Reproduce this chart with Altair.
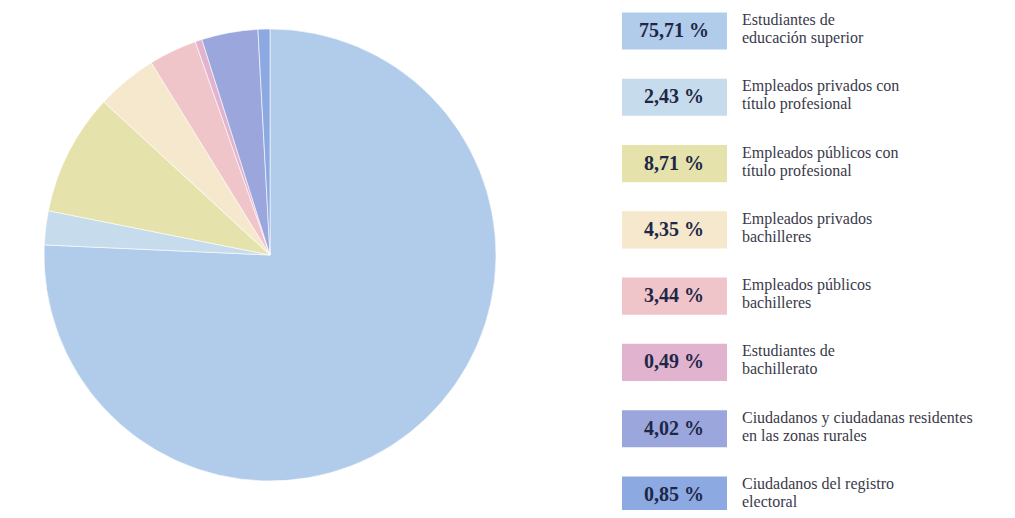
import altair as alt
import pandas as pd

categories = [
    "Estudiantes de\neducación superior",
    "Empleados privados con\ntítulo profesional",
    "Empleados públicos con\ntítulo profesional",
    "Empleados privados\nbachilleres",
    "Empleados públicos\nbachilleres",
    "Estudiantes de\nbachillerato",
    "Ciudadanos y ciudadanas residentes\nen las zonas rurales",
    "Ciudadanos del registro\nelectoral",
]
values = [75.71, 2.43, 8.71, 4.35, 3.44, 0.49, 4.02, 0.85]
value_labels = ["75,71 %", "2,43 %", "8,71 %", "4,35 %", "3,44 %", "0,49 %", "4,02 %", "0,85 %"]
colors = ["#b1cbea", "#c6dcec", "#e6e2ab", "#f5e8cc", "#f0c5c9", "#e2b3cf", "#9ba7dc", "#8ca9e1"]

df = pd.DataFrame({
    "cat": categories,
    "value": values,
    "vlabel": value_labels,
    "idx": list(range(len(values))),
})

color = alt.Color("cat:N", scale=alt.Scale(domain=categories, range=colors), legend=None)

pie = alt.Chart(df).mark_arc(
    outerRadius=226, stroke="white", strokeWidth=0.6
).encode(
    theta=alt.Theta("value:Q", stack=True),
    order=alt.Order("idx:Q"),
    color=color,
    x=alt.value(262),
    y=alt.value(247),
)

yscale = alt.Scale(domain=[0, 7], range=[23, 487])

boxes = alt.Chart(df).transform_calculate(
    y1="datum.idx - 0.28", y2="datum.idx + 0.28"
).mark_rect().encode(
    x=alt.value(614),
    x2=alt.value(719),
    y=alt.Y("y1:Q", scale=yscale, axis=None),
    y2="y2:Q",
    color=color,
)

pct_text = alt.Chart(df).mark_text(
    font="Liberation Serif", fontSize=20, fontWeight="bold", color="#1e2747",
    align="center", baseline="middle"
).encode(
    x=alt.value(666),
    y=alt.Y("idx:Q", scale=yscale, axis=None),
    text="vlabel:N",
)

lbl_text = alt.Chart(df).mark_text(
    font="Liberation Serif", fontSize=16, color="#3a3a4a",
    align="left", baseline="middle", lineBreak="\n", lineHeight=18, dy=-11
).encode(
    x=alt.value(734),
    y=alt.Y("idx:Q", scale=yscale, axis=None),
    text="cat:N",
)

chart = alt.layer(pie, boxes, pct_text, lbl_text).properties(
    width=999, height=502, padding=0, autosize="none"
).configure_view(stroke=None)

chart.save("out.html", embed_options={"renderer": "svg", "actions": False})
